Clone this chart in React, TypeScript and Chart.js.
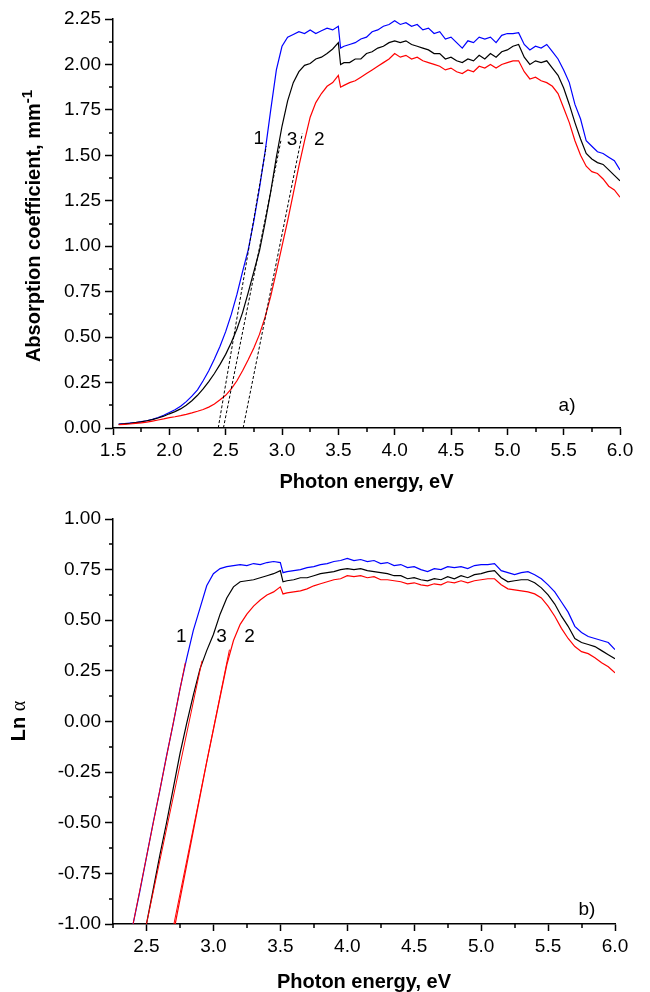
import React, { useEffect, useRef } from "react";
import { Chart, registerables } from "chart.js";

Chart.register(...registerables);

const FONT = "'Liberation Sans', Arial, sans-serif";

// ---------- panel a) : absorption coefficient ----------
const energyA = [
  1.55, 1.6, 1.65, 1.7, 1.75, 1.8, 1.85, 1.9, 1.95, 2.0,
  2.05, 2.1, 2.15, 2.2, 2.25, 2.3, 2.35, 2.4, 2.45, 2.5,
  2.55, 2.6, 2.65, 2.7, 2.75, 2.8, 2.85, 2.9, 2.95, 3.0,
  3.05, 3.1, 3.15, 3.2, 3.25, 3.3, 3.35, 3.4, 3.45, 3.5, 3.52,
  3.55, 3.6, 3.65, 3.7, 3.75, 3.8, 3.85, 3.9, 3.95, 4.0,
  4.05, 4.1, 4.15, 4.2, 4.25, 4.3, 4.35, 4.4, 4.45, 4.5,
  4.55, 4.6, 4.65, 4.7, 4.75, 4.8, 4.85, 4.9, 4.95, 5.0,
  5.05, 5.1, 5.15, 5.2, 5.25, 5.3, 5.35, 5.4, 5.45, 5.5,
  5.55, 5.6, 5.65, 5.7, 5.75, 5.8, 5.85, 5.9, 5.95, 6.0,
];

const alpha1 = [
  0.022, 0.024, 0.027, 0.03, 0.035, 0.04, 0.048, 0.058, 0.07, 0.085,
  0.1, 0.12, 0.145, 0.175, 0.21, 0.26, 0.315, 0.38, 0.45, 0.53,
  0.625, 0.735, 0.86, 0.98, 1.14, 1.32, 1.52, 1.75, 1.97, 2.1,
  2.15, 2.165, 2.18, 2.17, 2.19, 2.17, 2.185, 2.2, 2.19, 2.21, 2.09,
  2.1, 2.11, 2.12, 2.14, 2.15, 2.18, 2.19, 2.21, 2.22, 2.24,
  2.22, 2.23, 2.21, 2.22, 2.19, 2.2, 2.17, 2.18, 2.14, 2.15,
  2.12, 2.09, 2.13, 2.12, 2.15, 2.14, 2.15, 2.12, 2.16, 2.17,
  2.17, 2.175, 2.11, 2.08, 2.1, 2.09, 2.11, 2.07, 2.03, 1.97,
  1.9, 1.78, 1.7, 1.58, 1.55, 1.52, 1.51, 1.49, 1.47, 1.42,
];

const alpha3 = [
  0.02, 0.023, 0.026, 0.03, 0.034, 0.04, 0.046, 0.055, 0.065, 0.078,
  0.09, 0.105, 0.125, 0.15, 0.18, 0.215, 0.255, 0.3, 0.35, 0.405,
  0.47, 0.545, 0.635, 0.745, 0.86, 0.975, 1.13, 1.3, 1.49, 1.66,
  1.8, 1.9, 1.96, 1.995, 2.005, 2.03, 2.04, 2.06, 2.085, 2.12, 2.0,
  2.01, 2.01, 2.03, 2.03, 2.06, 2.07, 2.09, 2.1, 2.12, 2.13,
  2.12, 2.13, 2.11, 2.1, 2.09, 2.08, 2.06, 2.06, 2.03, 2.04,
  2.02, 2.01, 2.03, 2.02, 2.05, 2.03, 2.06, 2.04, 2.07, 2.08,
  2.1, 2.11, 2.04, 2.0, 2.02, 2.01, 2.02, 1.98, 1.94, 1.87,
  1.78, 1.68, 1.59, 1.51, 1.48, 1.46, 1.45, 1.42, 1.39, 1.36,
];

const alpha2 = [
  0.018, 0.02, 0.022, 0.025, 0.028, 0.032, 0.038, 0.044, 0.05, 0.057,
  0.062, 0.068, 0.075, 0.083, 0.092, 0.102, 0.115, 0.132, 0.155, 0.18,
  0.215, 0.26, 0.315, 0.375, 0.44, 0.515, 0.61, 0.725, 0.86, 1.0,
  1.14, 1.29, 1.44, 1.58, 1.71, 1.79, 1.84, 1.88, 1.9, 1.94, 1.875,
  1.885, 1.9, 1.91, 1.93, 1.95, 1.97, 1.99, 2.01, 2.03, 2.06,
  2.04, 2.05, 2.03, 2.04, 2.02, 2.01, 2.0, 1.99, 1.97, 1.98,
  1.96, 1.95, 1.97, 1.96, 1.99, 1.98, 2.0, 1.98, 2.0, 2.01,
  2.02, 2.02, 1.96, 1.92, 1.93, 1.91, 1.9, 1.88, 1.84, 1.76,
  1.68, 1.58, 1.5, 1.44, 1.41, 1.4, 1.37, 1.33, 1.31, 1.27,
];

// extrapolated absorption-edge fits (dashed)
const fitA1x = [2.434, 2.86];
const fitA1y = [0, 1.55];
const fitA3x = [2.48, 2.99];
const fitA3y = [0, 1.58];
const fitA2x = [2.655, 3.18];
const fitA2y = [0, 1.62];

const xTicksA = [1.5, 2.0, 2.5, 3.0, 3.5, 4.0, 4.5, 5.0, 5.5, 6.0];
const xMinorA = [1.75, 2.25, 2.75, 3.25, 3.75, 4.25, 4.75, 5.25, 5.75];
const yTicksA = [0, 0.25, 0.5, 0.75, 1.0, 1.25, 1.5, 1.75, 2.0, 2.25];
const yMinorA = [0.125, 0.375, 0.625, 0.875, 1.125, 1.375, 1.625, 1.875, 2.125];

const notesA = [
  { text: "1", x: 2.795, y: 1.59 },
  { text: "3", x: 3.088, y: 1.585 },
  { text: "2", x: 3.33, y: 1.585 },
  { text: "a)", x: 5.53, y: 0.124 },
];

// ---------- panel b) : Ln alpha ----------
const energyB = [
  2.4, 2.45, 2.5, 2.55, 2.6, 2.65, 2.7, 2.75, 2.8, 2.85,
  2.9, 2.95, 3.0, 3.05, 3.1, 3.15, 3.2, 3.25, 3.3, 3.35,
  3.4, 3.45, 3.5, 3.52, 3.55, 3.6, 3.65, 3.7, 3.75, 3.8, 3.85,
  3.9, 3.95, 4.0, 4.05, 4.1, 4.15, 4.2, 4.25, 4.3, 4.35,
  4.4, 4.45, 4.5, 4.55, 4.6, 4.65, 4.7, 4.75, 4.8, 4.85,
  4.9, 4.95, 5.0, 5.05, 5.1, 5.15, 5.2, 5.25, 5.3, 5.35,
  5.4, 5.45, 5.5, 5.55, 5.6, 5.65, 5.7, 5.75, 5.8, 5.85,
  5.9, 5.95, 6.0,
];

const lnAlpha1 = [
  -1.0, -0.84, -0.67, -0.5, -0.34, -0.17, -0.01, 0.16, 0.31, 0.45,
  0.56, 0.67, 0.73, 0.755, 0.765, 0.77, 0.775, 0.77, 0.78, 0.775,
  0.785, 0.79, 0.785, 0.735, 0.74, 0.745, 0.75, 0.76, 0.765, 0.775, 0.78,
  0.79, 0.795, 0.805, 0.795, 0.8, 0.79, 0.795, 0.78, 0.785, 0.77,
  0.775, 0.76, 0.765, 0.75, 0.74, 0.755, 0.75, 0.765, 0.76, 0.765,
  0.755, 0.77, 0.775, 0.775, 0.78, 0.745, 0.735, 0.725, 0.735, 0.74,
  0.725, 0.705, 0.675, 0.64, 0.59, 0.54, 0.47, 0.44, 0.42, 0.41,
  0.4, 0.39, 0.355,
];

const lnAlpha3 = [
  null, -1.17, -1.0, -0.83, -0.66, -0.5, -0.33, -0.16, -0.01, 0.13,
  0.26, 0.35, 0.43, 0.53, 0.61, 0.665, 0.69, 0.695, 0.7, 0.71,
  0.72, 0.73, 0.745, 0.69, 0.695, 0.7, 0.71, 0.71, 0.72, 0.73, 0.735,
  0.74, 0.75, 0.755, 0.75, 0.755, 0.745, 0.74, 0.735, 0.73, 0.72,
  0.72, 0.705, 0.71, 0.7, 0.695, 0.705, 0.7, 0.715, 0.705, 0.72,
  0.71, 0.725, 0.73, 0.74, 0.745, 0.71, 0.69, 0.695, 0.7, 0.7,
  0.685, 0.66, 0.625, 0.58, 0.52, 0.47, 0.41, 0.39, 0.38, 0.37,
  0.35, 0.33, 0.31,
];

const lnAlpha2 = [
  null, null, null, null, null, -1.22, -1.05, -0.88, -0.71, -0.54,
  -0.37, -0.2, -0.04, 0.12, 0.28, 0.4, 0.48, 0.53, 0.57, 0.6,
  0.625, 0.64, 0.665, 0.63, 0.635, 0.64, 0.645, 0.655, 0.67, 0.68, 0.69,
  0.7, 0.705, 0.72, 0.715, 0.72, 0.71, 0.715, 0.7, 0.7, 0.695,
  0.69, 0.68, 0.685, 0.675, 0.67, 0.68, 0.675, 0.69, 0.685, 0.695,
  0.685, 0.695, 0.7, 0.705, 0.705, 0.675, 0.655, 0.65, 0.645, 0.64,
  0.63, 0.61, 0.57, 0.52, 0.46, 0.41, 0.37, 0.345, 0.335, 0.315,
  0.29, 0.27, 0.24,
];

// linear fits (thin red)
const fitB1x = [2.4, 2.79];
const fitB1y = [-1.0, 0.29];
const fitB3x = [2.5, 2.915];
const fitB3y = [-1.0, 0.3];
const fitB2x = [2.705, 3.12];
const fitB2y = [-1.0, 0.355];

const xTicksB = [2.5, 3.0, 3.5, 4.0, 4.5, 5.0, 5.5, 6.0];
const xMinorB = [2.25, 2.75, 3.25, 3.75, 4.25, 4.75, 5.25, 5.75];
const yTicksB = [-1.0, -0.75, -0.5, -0.25, 0, 0.25, 0.5, 0.75, 1.0];
const yMinorB = [-0.875, -0.625, -0.375, -0.125, 0.125, 0.375, 0.625, 0.875];

const notesB = [
  { text: "1", x: 2.76, y: 0.42 },
  { text: "3", x: 3.06, y: 0.42 },
  { text: "2", x: 3.27, y: 0.42 },
  { text: "b)", x: 5.79, y: -0.93 },
];

const BLUE = "#0000ff";
const RED = "#ff0000";
const BLACK = "#000000";

function pts(xs: number[], ys: (number | null)[]) {
  const out: { x: number; y: number }[] = [];
  xs.forEach((x, i) => {
    const y = ys[i];
    if (y !== null && y !== undefined) out.push({ x, y });
  });
  return out;
}

type Part = { text: string; font: string; raise: number };
interface Decor {
  xMinor: number[];
  yMinor: number[];
  notes: { text: string; x: number; y: number }[];
  xTitle: string;
  xTitleBaseline: number;
  yTitle: Part[];
  yTitleX: number;
  yTitleCenter: number;
}

function decorPlugin(d: Decor) {
  return {
    id: "decor",
    afterDraw(chart: any) {
      const ctx = chart.ctx;
      const { left, right, bottom } = chart.chartArea;
      const xs = chart.scales.x;
      const ys = chart.scales.y;
      ctx.save();
      ctx.strokeStyle = "#000";
      ctx.lineWidth = 1.5;
      ctx.beginPath();
      d.xMinor.forEach((v) => {
        const p = Math.round(xs.getPixelForValue(v));
        ctx.moveTo(p, bottom);
        ctx.lineTo(p, bottom + 4);
      });
      d.yMinor.forEach((v) => {
        const p = Math.round(ys.getPixelForValue(v));
        ctx.moveTo(left - 4, p);
        ctx.lineTo(left, p);
      });
      ctx.stroke();

      ctx.fillStyle = "#000";
      ctx.font = `19px ${FONT}`;
      ctx.textAlign = "center";
      ctx.textBaseline = "middle";
      d.notes.forEach((n) =>
        ctx.fillText(n.text, xs.getPixelForValue(n.x), ys.getPixelForValue(n.y))
      );

      ctx.font = `bold 20px ${FONT}`;
      ctx.textBaseline = "alphabetic";
      ctx.fillText(d.xTitle, (left + right) / 2, d.xTitleBaseline);

      ctx.translate(d.yTitleX, d.yTitleCenter);
      ctx.rotate(-Math.PI / 2);
      ctx.textAlign = "left";
      let total = 0;
      d.yTitle.forEach((p) => {
        ctx.font = p.font;
        total += ctx.measureText(p.text).width;
      });
      let cur = -total / 2;
      d.yTitle.forEach((p) => {
        ctx.font = p.font;
        ctx.fillText(p.text, cur, -p.raise);
        cur += ctx.measureText(p.text).width;
      });
      ctx.restore();
    },
  };
}

function axis(
  min: number,
  max: number,
  ticks: number[],
  digits: number,
  tickLength: number,
  fit: (s: any) => void
) {
  return {
    type: "linear" as const,
    min,
    max,
    afterBuildTicks: (s: any) => {
      s.ticks = ticks.map((v) => ({ value: v }));
    },
    afterFit: fit,
    ticks: {
      autoSkip: false,
      maxRotation: 0,
      color: "#000",
      padding: 4,
      font: { family: FONT, size: 19 },
      callback: (v: any) => Number(v).toFixed(digits),
    },
    grid: {
      display: true,
      drawOnChartArea: false,
      drawTicks: true,
      tickLength,
      tickWidth: 1.5,
      tickColor: "#000",
    },
    border: { display: true, color: "#000", width: 1.5 },
  };
}

function lineDs(data: any[], color: string, width: number, dash: number[] = []) {
  return {
    data,
    borderColor: color,
    backgroundColor: color,
    borderWidth: width,
    borderDash: dash,
    pointRadius: 0,
    tension: 0,
    fill: false,
  };
}

export default function App() {
  const refA = useRef<HTMLCanvasElement | null>(null);
  const refB = useRef<HTMLCanvasElement | null>(null);

  useEffect(() => {
    const chartA = new Chart(refA.current as HTMLCanvasElement, {
      type: "line",
      data: {
        datasets: [
          lineDs(pts(fitA1x, fitA1y), BLACK, 1, [3, 2]),
          lineDs(pts(fitA3x, fitA3y), BLACK, 1, [3, 2]),
          lineDs(pts(fitA2x, fitA2y), BLACK, 1, [3, 2]),
          lineDs(pts(energyA, alpha2), RED, 1.2),
          lineDs(pts(energyA, alpha3), BLACK, 1.2),
          lineDs(pts(energyA, alpha1), BLUE, 1.2),
        ] as any,
      },
      options: {
        responsive: false,
        animation: false,
        devicePixelRatio: 1,
        parsing: false as any,
        layout: { padding: { top: 19, right: 30, left: 0, bottom: 0 } },
        plugins: { legend: { display: false }, tooltip: { enabled: false } },
        scales: {
          x: axis(1.5, 6.0, xTicksA, 1, 7, (s: any) => {
            s.height = 72;
          }),
          y: axis(0, 2.25, yTicksA, 2, 8, (s: any) => {
            s.width = 113;
          }),
        } as any,
      },
      plugins: [
        decorPlugin({
          xMinor: xMinorA,
          yMinor: yMinorA,
          notes: notesA,
          xTitle: "Photon energy, eV",
          xTitleBaseline: 488,
          yTitle: [
            { text: "Absorption coefficient, mm", font: `bold 20px ${FONT}`, raise: 0 },
            { text: "-1", font: `bold 15px ${FONT}`, raise: 8 },
          ],
          yTitleX: 40,
          yTitleCenter: 226,
        }),
      ],
    });

    const chartB = new Chart(refB.current as HTMLCanvasElement, {
      type: "line",
      data: {
        datasets: [
          lineDs(pts(fitB1x, fitB1y), RED, 1),
          lineDs(pts(fitB3x, fitB3y), RED, 1),
          lineDs(pts(fitB2x, fitB2y), RED, 1),
          lineDs(pts(energyB, lnAlpha2), RED, 1.2),
          lineDs(pts(energyB, lnAlpha3), BLACK, 1.2),
          lineDs(pts(energyB, lnAlpha1), BLUE, 1.2),
        ] as any,
      },
      options: {
        responsive: false,
        animation: false,
        devicePixelRatio: 1,
        parsing: false as any,
        layout: { padding: { top: 19, right: 35, left: 0, bottom: 0 } },
        plugins: { legend: { display: false }, tooltip: { enabled: false } },
        scales: {
          x: axis(2.25, 6.0, xTicksB, 1, 7, (s: any) => {
            s.height = 68;
          }),
          y: axis(-1.0, 1.0, yTicksB, 2, 8, (s: any) => {
            s.width = 113;
          }),
        } as any,
      },
      plugins: [
        decorPlugin({
          xMinor: xMinorB,
          yMinor: yMinorB,
          notes: notesB,
          xTitle: "Photon energy, eV",
          xTitleBaseline: 488,
          yTitle: [
            { text: "Ln ", font: `bold 20px ${FONT}`, raise: 0 },
            { text: "α", font: `20px 'Liberation Serif', serif`, raise: 0 },
          ],
          yTitleX: 25,
          yTitleCenter: 221,
        }),
      ],
    });

    return () => {
      chartA.destroy();
      chartB.destroy();
    };
  }, []);

  return (
    <div
      style={{
        position: "absolute",
        left: 0,
        top: 0,
        width: 650,
        height: 992,
        background: "#fff",
        overflow: "hidden",
      }}
    >
      <canvas
        ref={refA}
        width={650}
        height={500}
        style={{ position: "absolute", left: 0, top: 0, width: 650, height: 500 }}
      />
      <canvas
        ref={refB}
        width={650}
        height={492}
        style={{ position: "absolute", left: 0, top: 500, width: 650, height: 492 }}
      />
    </div>
  );
}
